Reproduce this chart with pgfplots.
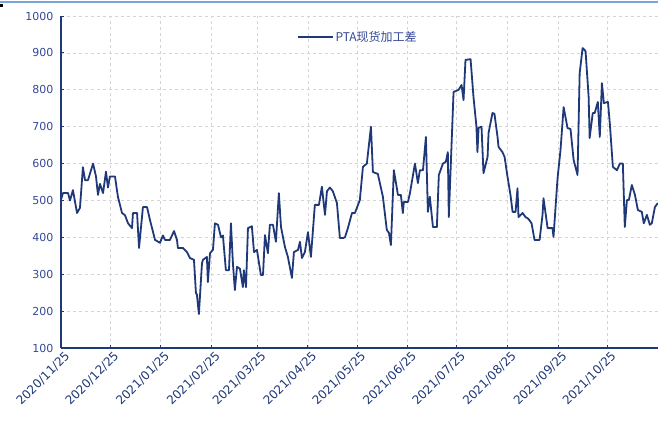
\documentclass[border=0pt]{standalone}
\usepackage{pgfplots}
\pgfplotsset{compat=1.18}
\usepackage{fontspec}
\setmainfont{DejaVu Sans}
\newfontfamily\cjk{Noto Sans CJK SC}
\definecolor{navy}{RGB}{31,56,120}
\definecolor{lab}{RGB}{52,72,150}
\definecolor{gridc}{RGB}{212,212,212}
\definecolor{topline}{RGB}{120,165,215}
\begin{document}
\begin{tikzpicture}
\useasboundingbox (-61pt,-76pt) rectangle (597pt,348pt);
\draw[topline, line width=1.2pt] (-61pt,346pt) -- (597pt,346pt);
\fill[black] (-61pt,341pt) rectangle (-58pt,344pt);
\begin{axis}[
 scale only axis, width=597pt, height=332pt,
 xmin=0, xmax=365, ymin=100, ymax=1000,
 axis x line=bottom, axis y line=left,
 axis line style={-, navy, line width=1.4pt},
 xtick={0,30,61,92,120,151,181,212,242,273,304,334},
 xticklabels={2020/11/25,2020/12/25,2021/01/25,2021/02/25,2021/03/25,2021/04/25,2021/05/25,2021/06/25,2021/07/25,2021/08/25,2021/09/25,2021/10/25},
 ytick={100,200,...,1000},
 grid=major, major grid style={gridc, dash pattern=on 3pt off 3pt, line width=0.7pt},
 tick style={navy, line width=1pt}, major tick length=3pt,
 tick align=inside,
 xticklabel style={rotate=45, anchor=east, font=\fontsize{12}{12}\selectfont, text=navy, inner sep=0.5pt, yshift=-9pt, xshift=1pt},
 yticklabel style={font=\fontsize{11}{11}\selectfont, text=lab, xshift=-4pt},
 /pgf/number format/assume math mode=true,
 /pgf/number format/1000 sep={},
 legend style={at={(0.497,0.937)}, anchor=center, draw=none, fill=none, font=\cjk\fontsize{12}{12}\selectfont, text=lab},
 legend image code/.code={\draw[#1] (0pt,0pt) -- (35pt,0pt);},
]
\addplot[navy, line width=1.8pt, line join=round] table {
x y
0 502
1.2 520
4.3 520
5.5 500
7.3 528
9.8 466
11.6 480
13.4 590
14.7 555
16.5 555
19.6 600
21.4 565
22.6 515
23.8 545
25.7 520
27.5 578
28.7 535
29.9 565
33.0 565
34.8 510
37.3 466
39.1 460
41.0 438
43.4 425
44.0 466
46.5 466
47.7 371
50.1 482
52.6 482
54.4 447
57.5 393
60.5 385
62.3 405
63.6 393
66.6 393
69.1 417
70.9 393
71.5 371
74.6 371
77.0 360
78.8 344
81.3 339
82.5 249
83.1 245
84.3 192
86.2 330
86.8 339
89.2 347
89.8 279
91.1 357
92.9 366
94.1 438
96.0 434
97.8 400
99.0 405
100.8 311
102.7 311
103.9 438
105.1 330
106.3 257
107.6 320
109.4 315
111.2 265
111.8 311
113.1 265
114.3 425
116.7 430
118.0 360
119.8 366
122.2 298
123.5 298
124.7 406
126.5 357
127.7 434
129.6 434
131.4 388
133.2 520
134.5 428
136.9 374
138.7 347
141.2 290
142.4 360
144.9 366
146.1 388
147.3 344
149.1 360
151.0 414
152.8 347
155.2 488
157.7 488
159.5 537
161.4 461
162.6 525
164.4 535
166.2 525
168.7 493
170.5 398
172.4 398
173.6 400
175.4 425
177.9 466
179.7 466
182.7 501
184.6 591
187.0 600
189.5 700
190.7 577
193.7 572
196.8 510
199.2 420
200.5 412
201.7 379
203.5 582
206.0 515
207.8 515
209.0 466
209.6 496
212.1 496
213.3 519
216.4 600
218.2 547
219.4 582
221.3 582
223.1 672
224.3 469
225.5 510
227.4 428
229.8 428
231.0 569
233.5 600
235.3 605
236.5 631
237.1 455
240.0 794
243.1 800
244.9 813
246.1 772
247.3 881
250.4 883
252.2 780
254.0 700
254.6 631
255.3 697
257.1 700
258.3 574
260.8 618
261.4 683
263.8 737
265.0 735
266.9 672
267.5 645
269.9 631
271.2 618
273.0 564
274.8 515
276.1 469
277.9 469
279.1 533
279.7 455
282.2 466
284.0 455
285.8 450
287.7 438
289.5 393
292.6 393
294.4 461
295.0 506
297.5 425
300.5 425
301.1 401
303.6 561
305.4 637
307.3 753
309.7 696
311.5 694
313.4 610
315.8 569
317.1 845
318.9 913
320.7 905
322.6 780
323.2 669
325.1 737
326.3 737
328.2 767
329.4 672
330.7 818
331.9 764
334.4 767
335.6 705
337.4 591
339.9 582
341.7 600
343.5 600
344.7 428
346.0 501
347.2 501
349.0 542
350.9 515
352.7 474
355.1 469
356.3 438
358.2 461
360.0 434
361.2 438
363.1 482
364.9 493
};
\addlegendentry{PTA现货加工差}
\end{axis}
\end{tikzpicture}
\end{document}
